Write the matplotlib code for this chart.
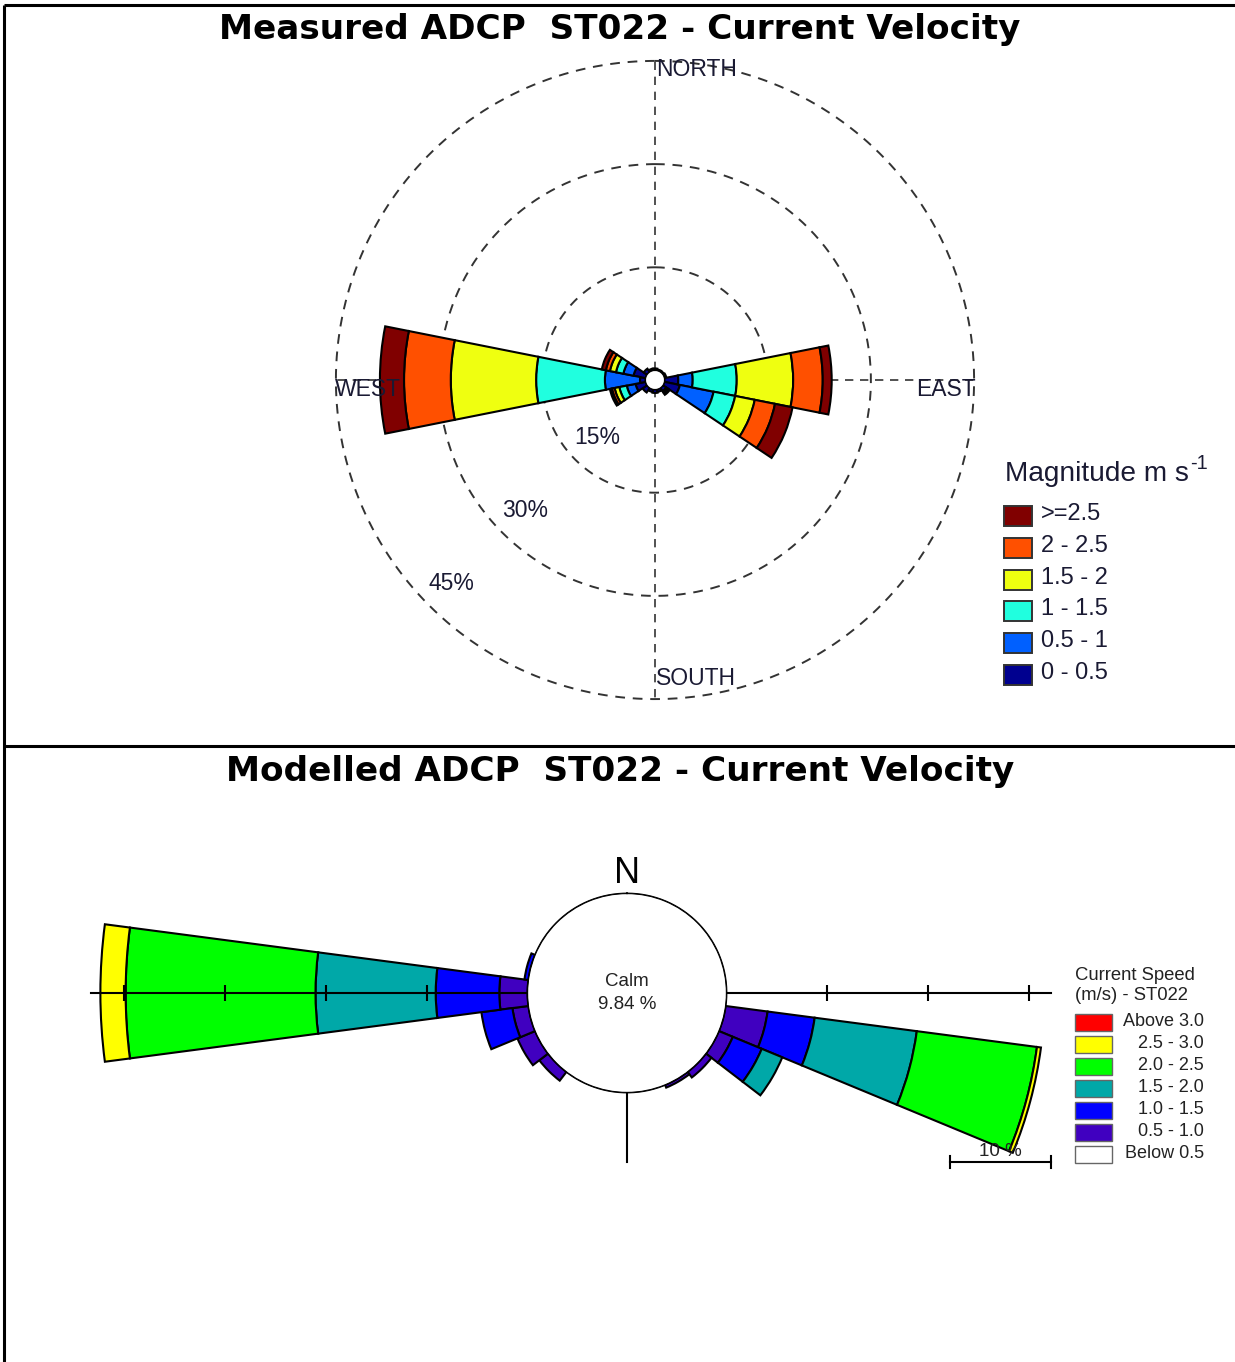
import numpy as np
import matplotlib
matplotlib.use('Agg')
import matplotlib.pyplot as plt
from matplotlib.patches import Rectangle
from matplotlib.transforms import offset_copy

W_PX, H_PX = 1235, 1362
SANS = ['Liberation Sans', 'DejaVu Sans']

# ---------------- data: measured (top) ----------------
top_dirs = np.arange(16) * 22.5
top_bins = ['0 - 0.5', '0.5 - 1', '1 - 1.5', '1.5 - 2', '2 - 2.5', '>=2.5']
top_colors = ['#00008f', '#0060ff', '#20ffdf', '#efff10', '#ff5000', '#800000']
#          N    NNE  NE   ENE  E    ESE  SE   SSE  S    SSW  SW   WSW  W     WNW  NW   NNW
m_0_05 = [0.3, 0.2, 0.2, 0.3, 2.0, 2.3, 0.6, 0.4, 0.5, 0.4, 0.8, 1.5, 0.8,  1.8, 0.6, 0.3]
m_05_1 = [0.0, 0.0, 0.0, 0.0, 2.1, 5.0, 0.3, 0.0, 0.0, 0.0, 0.0, 1.3, 5.1,  1.5, 0.0, 0.0]
m_1_15 = [0.0, 0.0, 0.0, 0.0, 6.4, 3.2, 0.3, 0.0, 0.0, 0.0, 0.0, 1.1, 10.0, 1.1, 0.0, 0.0]
m_15_2 = [0.0, 0.0, 0.0, 0.0, 8.2, 2.9, 0.0, 0.0, 0.0, 0.0, 0.0, 0.7, 12.4, 0.9, 0.0, 0.0]
m_2_25 = [0.0, 0.0, 0.0, 0.0, 4.3, 3.0, 0.0, 0.0, 0.0, 0.0, 0.0, 0.4, 6.8,  0.6, 0.0, 0.0]
m_25up = [0.0, 0.0, 0.0, 0.0, 1.3, 2.6, 0.0, 0.0, 0.0, 0.0, 0.0, 0.3, 3.5,  0.6, 0.0, 0.0]
top_series = [m_0_05, m_05_1, m_1_15, m_15_2, m_2_25, m_25up]
top_rings = [15, 30, 45]
top_ring_labels = ['15%', '30%', '45%']
compass = ['NORTH', 'EAST', 'SOUTH', 'WEST']

# ---------------- data: modelled (bottom) ----------------
bot_dirs = np.arange(24) * 15
bot_bins = ['Below 0.5', '0.5 - 1.0', '1.0 - 1.5', '1.5 - 2.0', '2.0 - 2.5', '2.5 - 3.0', 'Above 3.0']
bot_colors = ['#ffffff', '#4000c0', '#0000ff', '#00a8a8', '#00ff00', '#ffff00', '#ff0000']
#        0  15 30 45 60 75 90 105   120  135  150  165 180 195 210 225  240  255  270   285  300 315 330 345
s_below = [0, 0, 0, 0, 0, 0, 0, 0.0, 0.0, 0.0, 0.0, 0, 0, 0, 0, 0.0, 0.0, 0.0, 0.0,  0.0, 0, 0, 0, 0]
s_05_10 = [0, 0, 0, 0, 0, 0, 0, 4.2, 1.5, 0.7, 0.3, 0, 0, 0, 0, 1.1, 1.9, 1.6, 2.8,  0.0, 0, 0, 0, 0]
s_10_15 = [0, 0, 0, 0, 0, 0, 0, 4.7, 3.1, 0.0, 0.0, 0, 0, 0, 0, 0.0, 0.0, 3.1, 6.3,  0.4, 0, 0, 0, 0]
s_15_20 = [0, 0, 0, 0, 0, 0, 0, 10.2, 2.2, 0.0, 0.0, 0, 0, 0, 0, 0.0, 0.0, 0.0, 11.9, 0.0, 0, 0, 0, 0]
s_20_25 = [0, 0, 0, 0, 0, 0, 0, 12.0, 0.0, 0.0, 0.0, 0, 0, 0, 0, 0.0, 0.0, 0.0, 18.8, 0.0, 0, 0, 0, 0]
s_25_30 = [0, 0, 0, 0, 0, 0, 0, 0.4, 0.0, 0.0, 0.0, 0, 0, 0, 0, 0.0, 0.0, 0.0, 2.5,  0.0, 0, 0, 0, 0]
s_30up  = [0, 0, 0, 0, 0, 0, 0, 0.0, 0.0, 0.0, 0.0, 0, 0, 0, 0, 0.0, 0.0, 0.0, 0.0,  0.0, 0, 0, 0, 0]
bot_series = [s_below, s_05_10, s_10_15, s_15_20, s_20_25, s_25_30, s_30up]
calm_pct = 9.84
axis_west, axis_east, axis_south = 43.2, 32.1, 6.9
west_ticks = [10, 20, 30, 40]
east_ticks = [10, 20, 30]
scale_pct = 10

fig = plt.figure(figsize=(W_PX / 100, H_PX / 100), dpi=100)


def polar_axes(cx, cy, k, r0_data, rmax):
    R = (rmax + r0_data) * k
    ax = fig.add_axes([(cx - R) / W_PX, 1 - (cy + R) / H_PX, 2 * R / W_PX, 2 * R / H_PX],
                      projection='polar')
    ax.set_theta_zero_location('N')
    ax.set_theta_direction(-1)
    ax.set_rorigin(-r0_data)
    ax.set_ylim(0, rmax)
    ax.set_facecolor('none')
    ax.grid(False)
    ax.set_xticks([])
    ax.set_yticks([])
    for s in ax.spines.values():
        s.set_visible(False)
    return ax


def stacked(ax, dirs, series, colors, width, lw, z):
    cum = np.zeros(len(dirs))
    th = np.deg2rad(dirs)
    for vals, c in zip(series, colors):
        v = np.asarray(vals, float)
        m = v > 0
        if m.any():
            ax.bar(th[m], v[m], width=np.deg2rad(width), bottom=cum[m], color=c,
                   edgecolor='black', linewidth=lw, zorder=z, align='center')
        cum += v


# ---------------- top panel ----------------
k_top = 6.88
axt = polar_axes(655, 380, k_top, 9.5 / k_top, 46.8)
th = np.linspace(0, 2 * np.pi, 500)
dash = (0, (5, 4))
for rg in top_rings:
    axt.plot(th, np.full_like(th, rg), color='#333333', lw=1.4, ls=dash, zorder=1)
for ang in [0, 90, 180, 270]:
    axt.plot([np.deg2rad(ang)] * 2, [0, top_rings[-1]], color='#333333', lw=1.2, ls=dash, zorder=1)
stacked(axt, top_dirs, top_series, top_colors, 22.5, 1.5, 2)

txtc = '#1a1a33'
lab_kw = dict(fontsize=16.5, family=SANS, color=txtc, zorder=5, clip_on=False)
axt.text(0, 43.7, compass[0], ha='left', va='center',
         transform=offset_copy(axt.transData, fig=fig, x=1, y=0, units='dots'), **lab_kw)
axt.text(np.pi / 2, 45.2, compass[1], ha='right', va='center',
         transform=offset_copy(axt.transData, fig=fig, x=0, y=-10, units='dots'), **lab_kw)
axt.text(np.pi, 42.0, compass[2], ha='left', va='center',
         transform=offset_copy(axt.transData, fig=fig, x=1, y=0, units='dots'), **lab_kw)
axt.text(1.5 * np.pi, 45.2, compass[3], ha='left', va='center',
         transform=offset_copy(axt.transData, fig=fig, x=0, y=-10, units='dots'), **lab_kw)
for rg, lab in zip(top_rings, top_ring_labels):
    axt.text(np.deg2rad(225), rg - 4.6, lab, ha='center', va='center', **lab_kw)

# ---------------- bottom panel ----------------
k_bot = 10.1
axb = polar_axes(627, 993, k_bot, calm_pct, 44.0)
stacked(axb, bot_dirs, bot_series, bot_colors, 15, 1.5, 2)
axb.plot(th, np.zeros_like(th), color='black', lw=1.5, zorder=4)
axb.plot([np.deg2rad(270)] * 2, [0, axis_west], color='black', lw=1.5, zorder=4)
axb.plot([np.deg2rad(90)] * 2, [0, axis_east], color='black', lw=1.5, zorder=4)
axb.plot([np.pi] * 2, [0, axis_south], color='black', lw=1.5, zorder=4)
axb.plot([np.deg2rad(270)] * len(west_ticks), west_ticks, ls='none', marker='|',
         ms=11, mew=1.5, color='black', zorder=4)
axb.plot([np.deg2rad(90)] * len(east_ticks), east_ticks, ls='none', marker='|',
         ms=11, mew=1.5, color='black', zorder=4)
axb.text(0, 2.0, 'N', ha='center', va='center', fontsize=26, family=SANS, zorder=5)
axb.text(0.5, 0.5, 'Calm\n%.2f %%' % calm_pct, transform=axb.transAxes, ha='center',
         va='center', fontsize=13.5, family=SANS, color='#222222', linespacing=1.4, zorder=5)

# ---------------- overlay (pixel coordinates) ----------------
ov = fig.add_axes([0, 0, 1, 1], zorder=10)
ov.set_xlim(0, W_PX)
ov.set_ylim(H_PX, 0)
ov.axis('off')
ov.set_facecolor('none')
for xs, ys in [([4, W_PX], [5, 5]), ([4, 4], [5, H_PX]), ([4, W_PX], [746, 746])]:
    ov.plot(xs, ys, color='black', lw=2.2, solid_capstyle='butt')

ov.text(620, 29, 'Measured ADCP  ST022 - Current Velocity', ha='center', va='center',
        fontsize=24.7, fontweight='bold', family='DejaVu Sans')
ov.text(620, 772, 'Modelled ADCP  ST022 - Current Velocity', ha='center', va='center',
        fontsize=24.7, fontweight='bold', family='DejaVu Sans')

# top legend
mag = ov.text(1005, 474, 'Magnitude m s', ha='left', va='center', fontsize=20.2, family=SANS,
              color=txtc)
ov.annotate('-1', xy=(1.0, 0.55), xycoords=mag, xytext=(1, 0), textcoords='offset pixels',
            ha='left', va='bottom', fontsize=14.5, family=SANS, color=txtc)
for i, (lab, c) in enumerate(zip(top_bins[::-1], top_colors[::-1])):
    yc = 516 + i * 31.8
    ov.add_patch(Rectangle((1004, yc - 10), 28, 20, facecolor=c, edgecolor='#333333', lw=1.4))
    ov.text(1041, yc - 2, lab, ha='left', va='center', fontsize=17, family=SANS, color=txtc)

# bottom legend
ov.text(1075, 975, 'Current Speed', ha='left', va='center', fontsize=13.3, family=SANS, color='#222222')
ov.text(1075, 996, '(m/s) - ST022', ha='left', va='center', fontsize=13.3, family=SANS, color='#222222')
for i, (lab, c) in enumerate(zip(bot_bins[::-1], bot_colors[::-1])):
    yc = 1022 + i * 22
    ov.add_patch(Rectangle((1075, yc - 8.5), 37, 17, facecolor=c, edgecolor='#666666', lw=1.0))
    ov.text(1204, yc, lab, ha='right', va='center', fontsize=13, family=SANS, color='#222222')

# scale bar
x0 = 950
x1 = x0 + scale_pct * k_bot
ov.plot([x0, x1], [1162, 1162], color='black', lw=1.5)
ov.plot([x0, x0], [1156, 1168], color='black', lw=1.5)
ov.plot([x1, x1], [1156, 1168], color='black', lw=1.5)
ov.text((x0 + x1) / 2, 1151, '%d %%' % scale_pct, ha='center', va='center', fontsize=13.5,
        family=SANS, color='#222222')

fig.savefig('out.png', dpi=100, facecolor='white')
